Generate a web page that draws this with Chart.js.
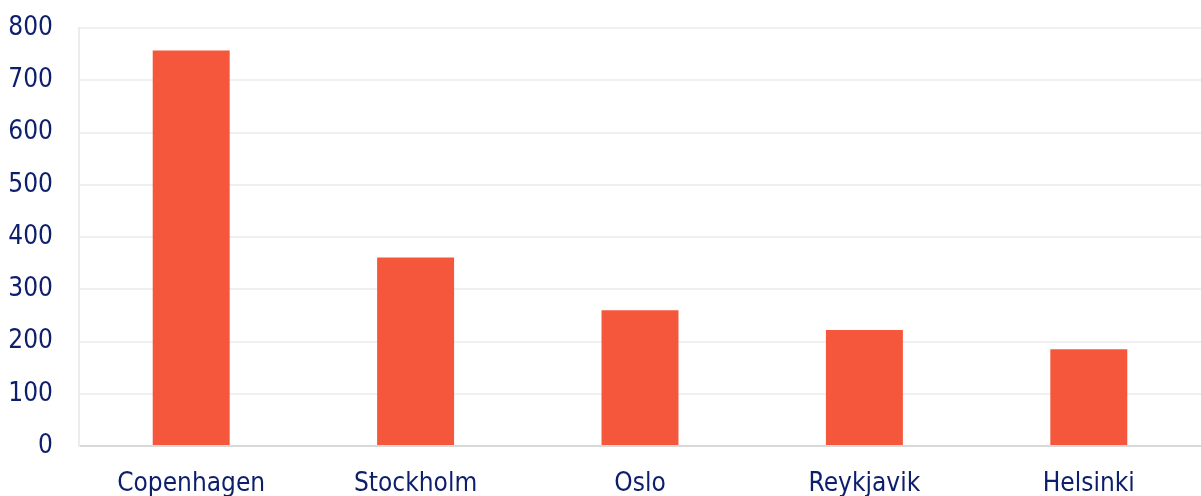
<!DOCTYPE html>
<html>
<head>
<meta charset="utf-8">
<script src="https://cdn.jsdelivr.net/npm/chart.js@4"></script>
<style>
    html, body { margin: 0; padding: 0; background: #ffffff; }
    #wrap { width: 1201px; height: 496px; position: relative; }
</style>
</head>
<body>
<div id="wrap"><canvas id="chart"></canvas></div>
<script>
// city names along the x axis
const cities = ['Copenhagen', 'Stockholm', 'Oslo', 'Reykjavik', 'Helsinki'];
// bar values
const values = [757, 361, 260, 222, 185];
// y axis range
const yMin = 0;
const yMax = 800;
const yStep = 100;

const navy = '#0d1e6b';
const barColor = '#f5573d';
const fontFamily = '"DejaVu Sans Condensed", "DejaVu Sans", Tahoma, sans-serif';

const ctx = document.getElementById('chart').getContext('2d');

new Chart(ctx, {
    type: 'bar',
    data: {
        labels: cities,
        datasets: [{
            data: values,
            backgroundColor: barColor,
            borderWidth: 0,
            categoryPercentage: 1,
            barPercentage: 0.343
        }]
    },
    options: {
        responsive: true,
        maintainAspectRatio: false,
        animation: false,
        layout: { padding: { top: 28, right: 0, bottom: 0, left: 0 } },
        plugins: {
            legend: { display: false },
            tooltip: { enabled: false }
        },
        scales: {
            x: {
                afterFit: (scale) => { scale.height = 50; },
                grid: { display: false },
                border: { display: true, color: '#d9d9d9', width: 2 },
                ticks: {
                    color: navy,
                    font: { family: fontFamily, size: 26 },
                    padding: 15,
                    maxRotation: 0
                }
            },
            y: {
                min: yMin,
                max: yMax,
                afterFit: (scale) => {
                    // fixed axis width, and let the top gridline sit at the layout padding
                    scale.width = 79;
                    scale.paddingTop = 0;
                    scale.paddingBottom = 0;
                },
                grid: {
                    drawTicks: false,
                    lineWidth: 2,
                    color: (c) => c.index === 0 ? '#d9d9d9' : '#f0f0f0'
                },
                border: { display: true, color: '#ececec', width: 2 },
                ticks: {
                    stepSize: yStep,
                    color: navy,
                    font: { family: fontFamily, size: 26 },
                    padding: 26
                }
            }
        }
    }
});
</script>
</body>
</html>
